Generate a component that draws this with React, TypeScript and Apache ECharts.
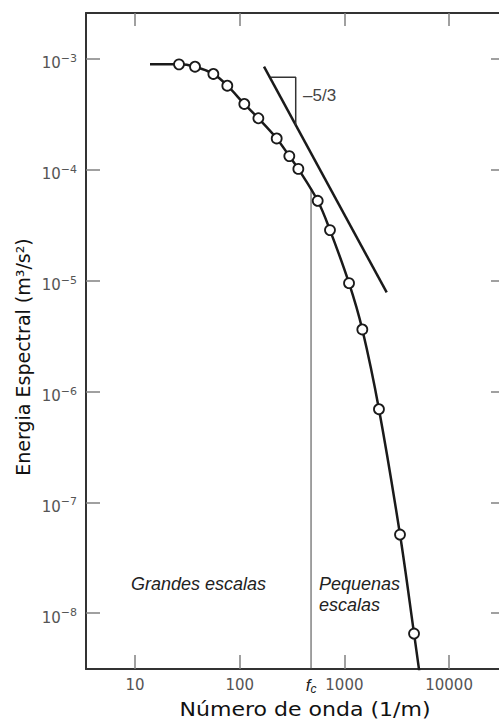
import React, { useEffect, useRef } from 'react';
import * as echarts from 'echarts';

// Measured spectrum (wave number in 1/m, spectral energy in m^3/s^2)
const waveNumbers = [26.3, 37.4, 56, 76.1, 110.6, 150.7, 225.5, 297.6, 363, 556, 728, 1107, 1483, 2138, 3397, 4625];
const energies = [8.95e-4, 8.52e-4, 7.33e-4, 5.74e-4, 3.93e-4, 2.92e-4, 1.92e-4, 1.33e-4, 1.02e-4, 5.26e-5, 2.86e-5, 9.5e-6, 3.63e-6, 6.93e-7, 5.13e-8, 6.56e-9];
// curve ends (no marker)
const curveStartK = 13.9;
const curveStartE = 8.95e-4;
const curveEndK = 5333;
const curveEndE = 2.48e-9;
// -5/3 reference line
const slopeK = [170.6, 2535];
const slopeE = [8.52e-4, 7.83e-6];
// slope triangle
const triK = [197.7, 342.6, 342.6];
const triE = [6.84e-4, 6.84e-4, 2.535e-4];
// cutoff wave number
const fc = 480;
const fcTopE = 6.58e-5;
// axes
const xRange = [3.4, 34200];
const yRange = [3.14e-9, 2.6e-3];
const xTicks = [10, 100, 1000, 10000];
const yTicks = [1e-8, 1e-7, 1e-6, 1e-5, 1e-4, 1e-3];

const L = Math.log10;

export default function App() {
  const ref = useRef<HTMLDivElement>(null);
  useEffect(() => {
    if (!ref.current) return;
    const chart = echarts.init(ref.current, null, { renderer: 'svg' });
    const fcLog = L(fc);
    const tickStyle = { show: true, inside: true, length: 14, lineStyle: { color: '#808080', width: 1.5 } };
    const axisLine = { show: true, lineStyle: { color: '#333', width: 2 } };
    const xBase = { type: 'value', min: L(xRange[0]), max: L(xRange[1]), splitLine: { show: false }, axisLine };
    const yBase = { type: 'value', min: L(yRange[0]), max: L(yRange[1]), splitLine: { show: false }, axisLine };
    const curve = [[curveStartK, curveStartE], ...waveNumbers.map((k, i) => [k, energies[i]]), [curveEndK, curveEndE]].map(([k, e]) => [L(k), L(e)]);
    const option: any = {
      animation: false,
      grid: { left: 86, top: 13, right: 15, bottom: 53 },
      xAxis: [
        {
          ...xBase,
          position: 'bottom',
          axisTick: { ...tickStyle, customValues: xTicks.map(L) },
          axisLabel: {
            customValues: [...xTicks.map(L), fcLog].sort((a, b) => a - b),
            margin: 6,
            color: '#555',
            fontFamily: 'DejaVu Sans',
            fontSize: 15,
            lineHeight: 20,
            formatter: (v: number) => {
              if (Math.abs(v - fcLog) < 1e-6) return '{f|f}{c|c}';
              return String(Math.round(Math.pow(10, v)));
            },
            rich: {
              f: { fontStyle: 'italic', fontSize: 17, fontFamily: 'Liberation Sans', color: '#222', lineHeight: 20, verticalAlign: 'middle' },
              c: { fontStyle: 'italic', fontSize: 12, fontFamily: 'Liberation Sans', color: '#222', lineHeight: 12, verticalAlign: 'bottom' },
            },
          },
        },
        {
          ...xBase,
          position: 'top',
          axisTick: { ...tickStyle, length: 13, customValues: xTicks.map(L) },
          axisLabel: { show: false },
        },
      ],
      yAxis: [
        {
          ...yBase,
          position: 'left',
          axisTick: { ...tickStyle, customValues: yTicks.map(L) },
          axisLabel: {
            customValues: yTicks.map(L),
            margin: 9,
            color: '#555',
            padding: [6, 0, 0, 0],
            formatter: (v: number) => {
              const ex = String(Math.round(v)).replace('-', '−');
              return '{b|10}{s|' + ex + '}';
            },
            rich: {
              b: { fontFamily: 'DejaVu Sans', fontSize: 15, color: '#555', lineHeight: 18, verticalAlign: 'bottom' },
              s: { fontFamily: 'DejaVu Sans', fontSize: 11, color: '#555', lineHeight: 9, verticalAlign: 'top' },
            },
          },
        },
        {
          ...yBase,
          position: 'right',
          axisTick: { ...tickStyle, customValues: yTicks.map(L) },
          axisLabel: { show: false },
        },
      ],
      graphic: [
        {
          type: 'text', x: 305, y: 710, scaleX: 1.16,
          style: { text: 'Número de onda (1/m)', fontFamily: 'DejaVu Sans', fontSize: 19, fill: '#111', align: 'center', verticalAlign: 'middle' },
        },
        {
          type: 'text', x: 23, y: 357, rotation: Math.PI / 2,
          style: { text: 'Energia Espectral (m³/s²)', fontFamily: 'DejaVu Sans', fontSize: 19, fill: '#111', align: 'center', verticalAlign: 'middle' },
        },
        {
          type: 'text', x: 303, y: 95,
          style: { text: '–5/3', fontFamily: 'Liberation Sans', fontSize: 17, fill: '#444', align: 'left', verticalAlign: 'middle' },
        },
        {
          type: 'text', x: 131, y: 584,
          style: { text: 'Grandes escalas', fontFamily: 'Liberation Sans', fontStyle: 'italic', fontSize: 18, fill: '#222', align: 'left', verticalAlign: 'middle' },
        },
        {
          type: 'text', x: 319, y: 594,
          style: { text: 'Pequenas\nescalas', fontFamily: 'Liberation Sans', fontStyle: 'italic', fontSize: 18, lineHeight: 21, fill: '#222', align: 'left', verticalAlign: 'middle' },
        },
      ],
      series: [
        {
          type: 'line', name: 'fc', z: 2,
          data: [[fcLog, L(yRange[0])], [fcLog, L(fcTopE)]],
          symbol: 'none', lineStyle: { color: '#444', width: 1 }, silent: true,
        },
        {
          type: 'line', name: 'slope', z: 2, data: slopeK.map((k, i) => [L(k), L(slopeE[i])]),
          symbol: 'none', lineStyle: { color: '#1a1a1a', width: 2.5 },
        },
        {
          type: 'line', name: 'triangle', z: 2, data: triK.map((k, i) => [L(k), L(triE[i])]),
          symbol: 'none', lineStyle: { color: '#333', width: 1.5 },
        },
        {
          type: 'line', name: 'curve', z: 3, data: curve, smooth: 0.35,
          symbol: 'none', lineStyle: { color: '#1a1a1a', width: 2.5 }, clip: true,
        },
        {
          type: 'scatter', name: 'points', z: 10, data: waveNumbers.map((k, i) => [L(k), L(energies[i])]),
          symbol: 'circle', symbolSize: 10,
          itemStyle: { color: '#ffffff', borderColor: '#1a1a1a', borderWidth: 1.8, opacity: 1 },
        },
      ],
    };
    chart.setOption(option);
    return () => chart.dispose();
  }, []);
  return <div ref={ref} style={{ position: 'fixed', left: 0, top: 0, width: 520, height: 722, background: '#fff' }} />;
}
